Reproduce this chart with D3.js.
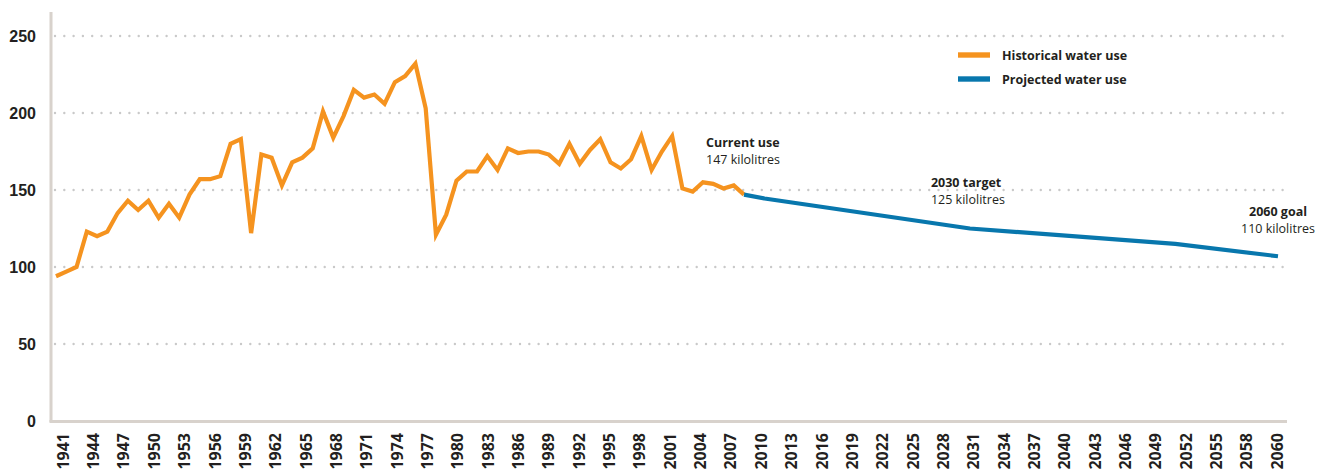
<!DOCTYPE html>
<html>
<head>
<meta charset="utf-8">
<script src="https://cdn.jsdelivr.net/npm/d3@7"></script>
<style>
  body { margin: 0; background: #fff; }
  svg { display: block; font-family: "Open Sans", "Noto Sans", sans-serif; }
  .tick-label { font-size: 16px; font-weight: 700; fill: #231f20; }
  .legend-label { font-size: 12.5px; font-weight: 700; fill: #231f20; }
  .note-title { font-size: 12.5px; font-weight: 700; fill: #231f20; }
  .note-value { font-size: 12.5px; fill: #231f20; }
</style>
</head>
<body>
<div id="chart"></div>
<script>
// historical annual use per household (kilolitres)
const histYears = [1941, 1942, 1943, 1944, 1945, 1946, 1947, 1948, 1949, 1950,
  1951, 1952, 1953, 1954, 1955, 1956, 1957, 1958, 1959, 1960,
  1961, 1962, 1963, 1964, 1965, 1966, 1967, 1968, 1969, 1970,
  1971, 1972, 1973, 1974, 1975, 1976, 1977, 1978, 1979, 1980,
  1981, 1982, 1983, 1984, 1985, 1986, 1987, 1988, 1989, 1990,
  1991, 1992, 1993, 1994, 1995, 1996, 1997, 1998, 1999, 2000,
  2001, 2002, 2003, 2004, 2005, 2006, 2007, 2008];
const histValues = [94, 97, 100, 123, 120, 123, 135, 143, 137, 143,
  132, 141, 132, 147, 157, 157, 159, 180, 183, 122,
  173, 171, 153, 168, 171, 177, 201, 184, 198, 215,
  210, 212, 206, 220, 224, 232, 203, 121, 134, 156,
  162, 162, 172, 163, 177, 174, 175, 175, 173, 167,
  180, 167, 176, 183, 168, 164, 170, 185, 163, 175,
  185, 151, 149, 155, 154, 151, 153, 147];

// projected use
const projYears = [2008, 2010, 2030, 2050, 2060];
const projValues = [147, 144.5, 125, 115, 107];

const yTicks = [0, 50, 100, 150, 200, 250];
const xTickLabels = ["1941", "1944", "1947", "1950", "1953", "1956", "1959", "1962",
  "1965", "1968", "1971", "1974", "1977", "1980", "1983", "1986", "1989", "1992",
  "1995", "1998", "2001", "2004", "2007", "2010", "2013", "2016", "2019", "2022",
  "2025", "2028", "2031", "2034", "2037", "2040", "2043", "2046", "2049", "2052",
  "2055", "2058", "2060"];

const legendItems = [
  { label: "Historical water use", color: "#f5931f" },
  { label: "Projected water use", color: "#0877ad" }
];

const notes = [
  { year: 2008, value: 147, title: "Current use", text: "147 kilolitres", dx: -38, dy: -48, anchor: "start" },
  { year: 2030, value: 125, title: "2030 target", text: "125 kilolitres", dx: -39, dy: -42, anchor: "start" },
  { year: 2060, value: 107, title: "2060 goal", text: "110 kilolitres", dx: 0, dy: -40, anchor: "middle" }
];

const width = 1329, height = 472;
const plot = { left: 51, right: 1287, top: 12, bottom: 422 };

const svg = d3.select("#chart").append("svg")
  .attr("width", width)
  .attr("height", height);

const x = d3.scaleLinear().domain([1941, 2060]).range([56, 1278]);
const y = d3.scaleLinear().domain([0, 250]).range([421, 36]);
const xLab = d3.scalePoint().domain(xTickLabels).range([63, 1277]);

// dotted gridlines
svg.append("g")
  .selectAll("line")
  .data(yTicks.filter(d => d > 0))
  .join("line")
  .attr("x1", plot.left + 4)
  .attr("x2", plot.right)
  .attr("y1", d => y(d))
  .attr("y2", d => y(d))
  .attr("stroke", "#c9c9c9")
  .attr("stroke-width", 2.4)
  .attr("stroke-linecap", "round")
  .attr("stroke-dasharray", "0 9.3");

// axis lines
svg.append("line")
  .attr("x1", plot.left).attr("x2", plot.left)
  .attr("y1", plot.top).attr("y2", plot.bottom)
  .attr("stroke", "#d8d2cc").attr("stroke-width", 3);
svg.append("line")
  .attr("x1", plot.left - 1.5).attr("x2", plot.right)
  .attr("y1", plot.bottom - 0.5).attr("y2", plot.bottom - 0.5)
  .attr("stroke", "#d8d2cc").attr("stroke-width", 3);

// y labels
const yAxis = d3.axisLeft(y).tickValues(yTicks).tickSize(0).tickPadding(0);
svg.append("g")
  .attr("transform", "translate(36,0)")
  .call(yAxis)
  .call(g => g.select(".domain").remove())
  .call(g => g.selectAll("text")
    .attr("class", "tick-label")
    .attr("dy", "0.36em")
    .attr("font-family", null)
    .attr("font-size", null)
    .attr("fill", null));

// x labels, rotated
svg.append("g")
  .selectAll("text")
  .data(xTickLabels)
  .join("text")
  .attr("class", "tick-label")
  .attr("transform", d => `translate(${xLab(d)},433) rotate(-90)`)
  .attr("text-anchor", "end")
  .attr("dy", "0.36em")
  .text(d => d);

// lines
const line = d3.line()
  .x(d => x(d[0]))
  .y(d => y(d[1]));

svg.append("path")
  .datum(histYears.map((yr, i) => [yr, histValues[i]]))
  .attr("d", line)
  .attr("fill", "none")
  .attr("stroke", legendItems[0].color)
  .attr("stroke-width", 4.2)
  .attr("stroke-linejoin", "miter");

svg.append("path")
  .datum(projYears.map((yr, i) => [yr, projValues[i]]))
  .attr("d", line)
  .attr("fill", "none")
  .attr("stroke", legendItems[1].color)
  .attr("stroke-width", 4.2)
  .attr("stroke-linejoin", "round");

// legend
const legend = svg.append("g").attr("transform", "translate(958,55)");
legendItems.forEach((item, i) => {
  const g = legend.append("g").attr("transform", `translate(0,${i * 24})`);
  g.append("rect")
    .attr("x", 0).attr("y", -2.7)
    .attr("width", 32).attr("height", 5.4)
    .attr("fill", item.color);
  g.append("text")
    .attr("class", "legend-label")
    .attr("x", 44)
    .attr("dy", "0.36em")
    .text(item.label);
});

// annotations
notes.forEach(n => {
  const g = svg.append("g")
    .attr("transform", `translate(${x(n.year) + n.dx},${y(n.value) + n.dy})`)
    .attr("text-anchor", n.anchor);
  g.append("text").attr("class", "note-title").text(n.title);
  g.append("text").attr("class", "note-value").attr("y", 17).text(n.text);
});
</script>
</body>
</html>
